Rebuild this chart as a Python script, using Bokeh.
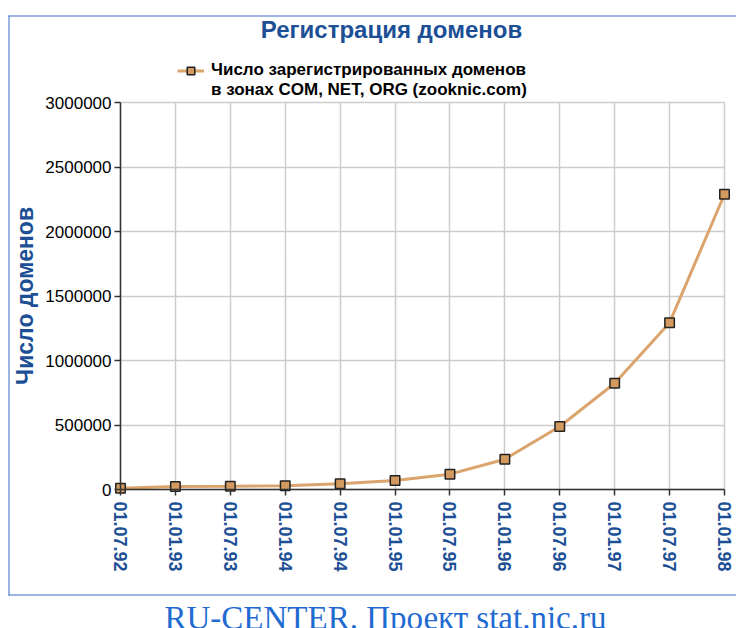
from bokeh.plotting import figure
from bokeh.models import (Range1d, FixedTicker, Legend, LegendItem, Label,
                          BoxAnnotation, NumeralTickFormatter)
from bokeh.embed import file_html
from bokeh.resources import INLINE

# ---- data ----
dates = ["01.07.92", "01.01.93", "01.07.93", "01.01.94", "01.07.94", "01.01.95",
         "01.07.95", "01.01.96", "01.07.96", "01.01.97", "01.07.97", "01.01.98"]
domains = [10000, 23000, 26000, 30000, 44000, 70000,
           119000, 235000, 488000, 824000, 1293000, 2289000]
y_ticks = [0, 500000, 1000000, 1500000, 2000000, 2500000, 3000000]
title_text = "Регистрация доменов"
y_label = "Число доменов"
legend_line1 = "Число зарегистрированных доменов"
legend_line2 = "в зонах COM, NET, ORG (zooknic.com)"
footer_text = "RU-CENTER. Проект stat.nic.ru"

x = list(range(len(dates)))

DARK_BLUE = "#1c4f95"
BORDER_BLUE = "#3b6cc9"
FONT = "Liberation Sans"

# ---- layout geometry: the whole canvas is the frame (pixels from top-left) ----
W, H = 736, 628
AX_L, AX_R = 120, 724      # x of first / last category
AX_B, AX_T = 489, 102      # y of 0 / top tick
xu = (len(dates) - 1) / (AX_R - AX_L)
yu = y_ticks[-1] / (AX_B - AX_T)
x0 = -AX_L * xu
y1 = y_ticks[-1] + AX_T * yu


def X(px):
    return x0 + px * xu


def Y(py):
    return y1 - py * yu


p = figure(width=W, height=H, output_backend="svg", toolbar_location=None,
           x_range=Range1d(X(0), X(W)), y_range=Range1d(Y(H), Y(0)),
           min_border=0)
p.outline_line_color = None
p.background_fill_color = "white"
p.border_fill_color = "white"

# axes placed at the zero positions inside the frame
xa = p.xaxis[0]
ya = p.yaxis[0]
xa.fixed_location = y_ticks[0]
ya.fixed_location = x[0]
xa.bounds = (x[0], x[-1])
ya.bounds = (y_ticks[0], y_ticks[-1])
xa.ticker = FixedTicker(ticks=x)
ya.ticker = FixedTicker(ticks=y_ticks)
xa.major_label_overrides = {i: d for i, d in zip(x, dates)}
xa.major_label_orientation = "vertical"
ya.formatter = NumeralTickFormatter(format="0")
for ax in (xa, ya):
    ax.axis_line_color = "#333333"
    ax.axis_line_width = 1.5
    ax.major_tick_line_color = "#333333"
    ax.major_tick_line_width = 1.5
    ax.major_tick_out = 6
    ax.major_tick_in = 0
    ax.minor_tick_line_color = None
    ax.major_label_text_font = FONT
xa.major_label_text_font_size = "18px"
xa.major_label_text_font_style = "bold"
xa.major_label_text_color = DARK_BLUE
xa.major_label_standoff = 6
ya.major_label_text_font_size = "17px"
ya.major_label_text_color = "black"
ya.major_label_standoff = 3
ya.axis_label = y_label
ya.axis_label_text_font = FONT
ya.axis_label_text_font_size = "23px"
ya.axis_label_text_font_style = "bold"
ya.axis_label_text_color = DARK_BLUE
ya.axis_label_standoff = 4

# grid limited to the axes area
p.xgrid.ticker = FixedTicker(ticks=x)
p.ygrid.ticker = FixedTicker(ticks=y_ticks)
for g in (p.xgrid[0], p.ygrid[0]):
    g.grid_line_color = "#cccccc"
    g.grid_line_width = 1.5
p.xgrid[0].bounds = (x[0], x[-1])
p.ygrid[0].bounds = (y_ticks[0], y_ticks[-1])
p.xgrid[0].cross_bounds = (y_ticks[0], y_ticks[-1])
p.ygrid[0].cross_bounds = (x[0], x[-1])

# data
r_line = p.line(x, domains, line_color="#dba46d", line_width=3)
r_pts = p.scatter(x, domains, marker="square", size=9.5,
                  fill_color="#d39a5f", line_color="#222222", line_width=1.5)
r_blank = p.line(x=[x[0]], y=[y_ticks[0]], line_alpha=0)

legend = Legend(items=[LegendItem(label=legend_line1, renderers=[r_line, r_pts]),
                       LegendItem(label=legend_line2, renderers=[r_blank])],
                location=(177, H - AX_T + 2), orientation="vertical",
                spacing=0, padding=3, margin=0, border_line_color=None,
                background_fill_alpha=0,
                label_text_font=FONT, label_text_font_style="bold",
                label_text_font_size="17px", label_text_color="black",
                glyph_width=27, glyph_height=19, label_height=19,
                label_standoff=7)
p.add_layout(legend)

# title
p.add_layout(Label(x=X(391), y=Y(29), text=title_text, text_font=FONT,
                   text_font_size="24px", text_font_style="bold",
                   text_color=DARK_BLUE, text_align="center",
                   text_baseline="alphabetic"))

# outer blue box: top, left and bottom edges (right edge lies off-page)
for l, r, t, b in [(8, W, 15, 16), (8, 9, 15, 595), (8, W, 594, 595)]:
    p.add_layout(BoxAnnotation(left=X(l), right=X(r), top=Y(t), bottom=Y(b),
                               fill_color=BORDER_BLUE, fill_alpha=1,
                               line_color=None))

# footer
p.add_layout(Label(x=X(385), y=Y(617), text=footer_text,
                   text_font="Liberation Serif", text_font_size="33px",
                   text_color="#1f6bd1", text_align="center",
                   text_baseline="alphabetic"))

open("out.html", "w").write(file_html(p, INLINE))
